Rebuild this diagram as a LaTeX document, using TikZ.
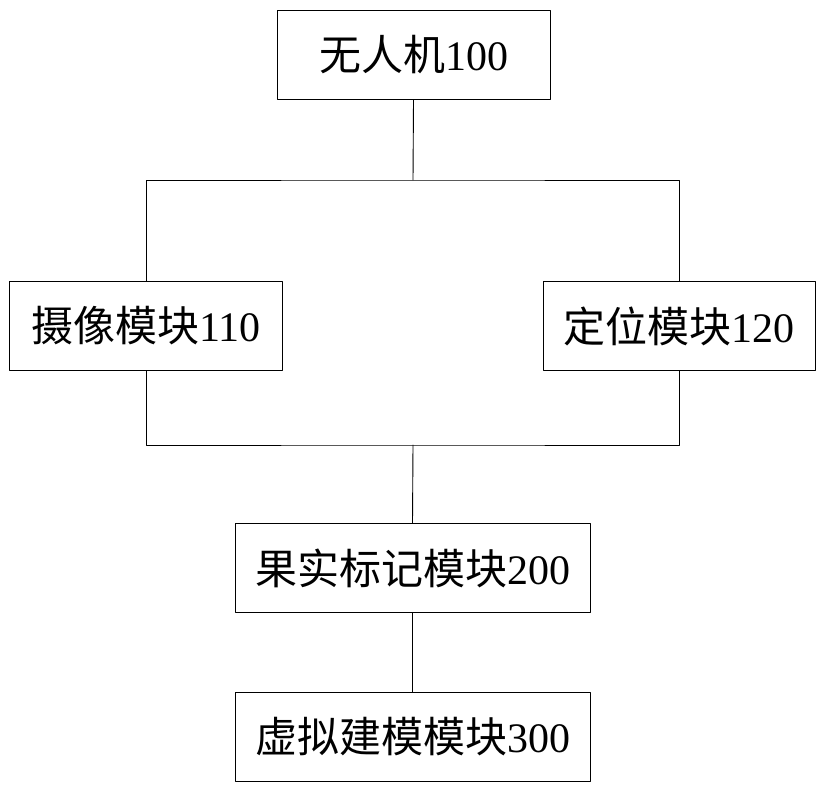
\documentclass[tikz,border=0pt]{standalone}
\usepackage{fontspec}
\setmainfont{Liberation Serif}
\newfontfamily\cjk{Noto Sans CJK SC}
\usetikzlibrary{positioning}

\begin{document}
\begin{tikzpicture}[x=1pt,y=-1pt,line cap=round,line join=round,
    modbox/.style={draw,line width=.9pt,inner sep=0pt,
      font=\fontsize{42}{44}\selectfont,minimum height=89pt},
    link/.style={line width=.9pt}]
    \useasboundingbox (0,0) rectangle (822,788);
    % Upper part.
    \node[modbox,minimum width=273pt] (uav) at (413.5,55) {{\cjk 无人机}100};
    \node[modbox,minimum width=273pt] (camera) at (146,326) {{\cjk 摄像模块}110};
    \node[modbox,minimum width=272pt] (locate) at (679,326) {{\cjk 定位模块}120};
    \coordinate (split) at (413,180);
    \draw[link] (uav.south) -- (split);
    \draw[link] (camera.north) |- (split) -| (locate.north);

    % Lower part.
    \node[modbox,minimum width=355pt] (mark) at (412.5,568) {{\cjk 果实标记模块}200};
    \node[modbox,minimum width=355pt] (model) at (412.5,737) {{\cjk 虚拟建模模块}300};
    \coordinate (join) at (413,445);
    \draw[link] (camera.south) |- (join) -| (locate.south);
    \draw[link] (join) -- (mark.north);
    \draw[link] (mark.south) -- (model.north);
  \end{tikzpicture}
\end{document}
